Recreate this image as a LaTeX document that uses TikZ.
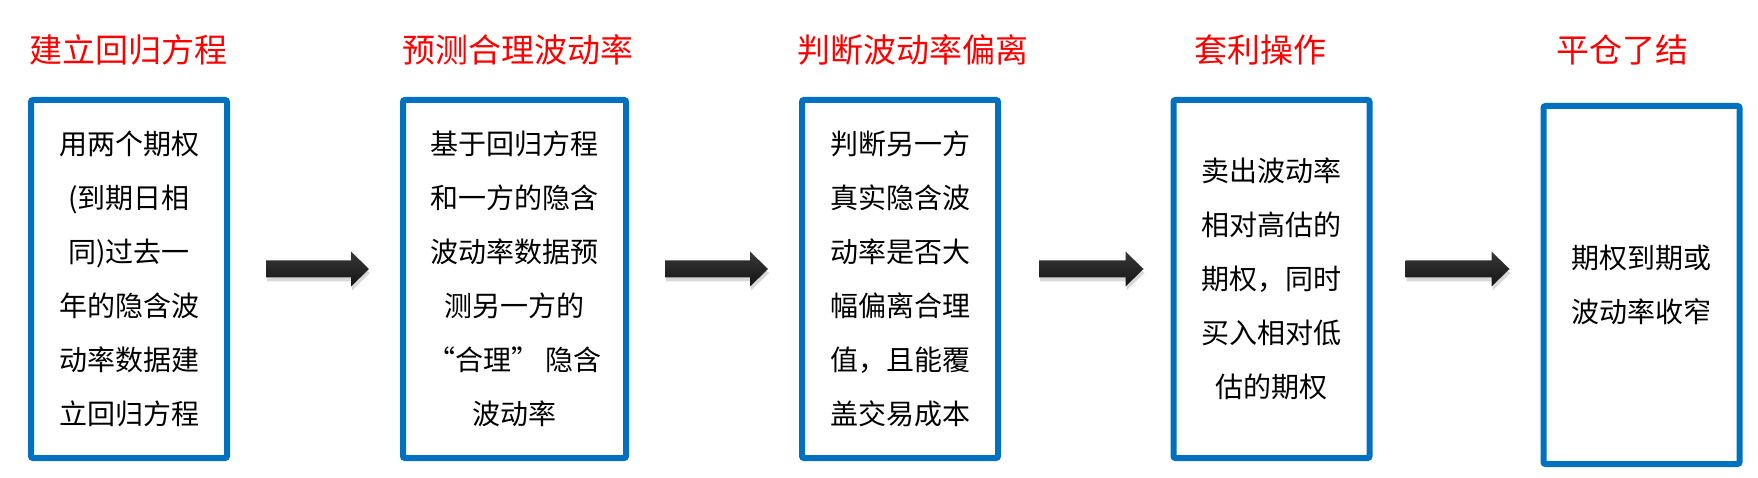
\documentclass[tikz,border=0pt]{standalone}
\usepackage{fontspec}
\newfontfamily\cjk{Noto Sans CJK SC}
\usetikzlibrary{calc,shadows}
\definecolor{boxblue}{HTML}{0070C0}
\newcommand{\fatarrow}[2]{%
  \path[arrowbody] let \p1=(#1), \p2=(#2) in
    (\x1,\y1-8.5pt) -- (\x2-18pt,\y1-8.5pt) -- (\x2-18pt,\y1-17.5pt) -- (\x2,\y1)
    -- (\x2-18pt,\y1+17.5pt) -- (\x2-18pt,\y1+8.5pt) -- (\x1,\y1+8.5pt) -- cycle;}
\begin{document}
\begin{tikzpicture}[x=1pt,y=1pt,
  stepbox/.style={draw=boxblue, line width=6pt, rounded corners=2pt,
    minimum width=196pt, minimum height=358pt, inner sep=0pt, align=center,
    fill=white, font=\cjk\fontsize{28}{54}\selectfont},
  title/.style={text=red, inner sep=0pt, font=\cjk\fontsize{33}{40}\selectfont},
  arrowbody/.style={top color=black!78, middle color=black, bottom color=black!92,
    drop shadow={opacity=0.3, shadow xshift=1pt, shadow yshift=-4pt}}]
\useasboundingbox (0,0) rectangle (1758,477);
\fill[white] (0,0) rectangle (1758,477);
% boxes
\node[stepbox] (b1) at (129,198) {用两个期权\\(到期日相\\同)过去一\\年的隐含波\\动率数据建\\立回归方程};
\node[stepbox, minimum width=223pt] (b2) at (514.5,198) {基于回归方程\\和一方的隐含\\波动率数据预\\测另一方的\\“合理”\ 隐含\\波动率};
\node[stepbox] (b3) at (900,198) {判断另一方\\真实隐含波\\动率是否大\\幅偏离合理\\值，且能覆\\盖交易成本};
\node[stepbox] (b4) at (1271.5,198) {卖出波动率\\相对高估的\\期权，同时\\买入相对低\\估的期权};
\node[stepbox] (b5) at (1641.5,192) {期权到期或\\波动率收窄};
% titles
\node[title] (t1) at (128,427) {建立回归方程};
\node[title] (t2) at (518,427) {预测合理波动率};
\node[title] (t3) at (913,427) {判断波动率偏离};
\node[title] (t4) at (1260,427) {套利操作};
\node[title] (t5) at (1622,427) {平仓了结};
% arrows
\coordinate (a1s) at ($(b1.east)+(36,10)$);
\coordinate (a1e) at ($(b2.west)+(-31,10)$);
\coordinate (a2s) at ($(b2.east)+(36,10)$);
\coordinate (a2e) at ($(b3.west)+(-31,10)$);
\coordinate (a3s) at ($(b3.east)+(38,10)$);
\coordinate (a3e) at ($(b4.west)+(-27,10)$);
\coordinate (a4s) at ($(b4.east)+(33,10)$);
\coordinate (a4e) at ($(b5.west |- b4.east)+(-31,10)$);
\fatarrow{a1s}{a1e}
\fatarrow{a2s}{a2e}
\fatarrow{a3s}{a3e}
\fatarrow{a4s}{a4e}
\end{tikzpicture}
\end{document}
